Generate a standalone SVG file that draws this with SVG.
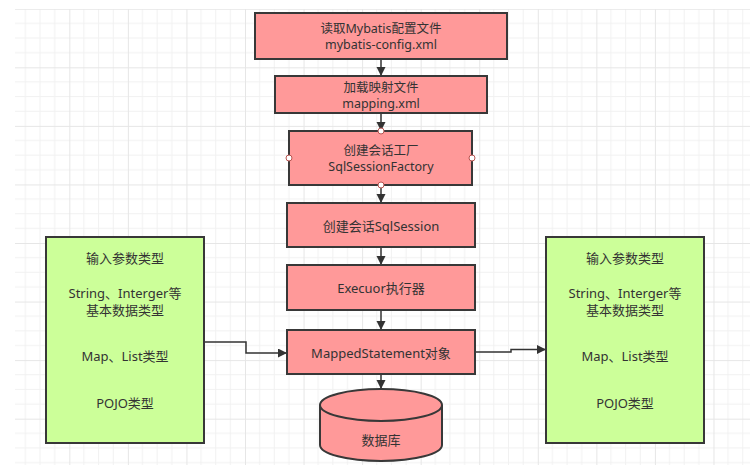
<svg xmlns="http://www.w3.org/2000/svg" width="752" height="470" viewBox="0 0 752 470">
<defs>
<pattern id="grid" x="10.75" y="8.75" width="58.56" height="58.56" patternUnits="userSpaceOnUse">
<path d="M14.64 0V58.56M29.28 0V58.56M43.92 0V58.56M0 14.64H58.56M0 29.28H58.56M0 43.92H58.56" stroke="#f1f1f1" stroke-width="1" fill="none"/>
<path d="M0.5 0V58.56M0 0.5H58.56" stroke="#e6e6e6" stroke-width="1" fill="none"/>
</pattern>
<marker id="arr" markerWidth="10" markerHeight="10" refX="9" refY="4.5" orient="auto" markerUnits="userSpaceOnUse">
<path d="M0,0 L9,4.5 L0,9 Z" fill="#333"/>
</marker>
<style>
.box{fill:#ff9999;stroke:#383838;stroke-width:2}
.green{fill:#ccff99;stroke:#383838;stroke-width:2}
.t{font-family:"Noto Sans","Noto Sans CJK SC",sans-serif;font-size:13px;fill:#333;text-anchor:middle;dominant-baseline:central}
.t2{font-size:12.5px}
.c{fill:none;stroke:#333;stroke-width:1.5}
.h{fill:#fff;stroke:#b85450;stroke-width:1}
</style>
</defs>
<rect width="752" height="470" fill="#fff"/>
<rect x="15" y="9" width="735" height="456" fill="url(#grid)"/>

<g id="connectors">
<path class="c" d="M381,59 V76" marker-end="url(#arr)"/>
<path class="c" d="M381,113 V131" marker-end="url(#arr)"/>
<path class="c" d="M381,185 V203" marker-end="url(#arr)"/>
<path class="c" d="M381,247 V265" marker-end="url(#arr)"/>
<path class="c" d="M381,310 V330" marker-end="url(#arr)"/>
<path class="c" d="M381,374 V389" marker-end="url(#arr)"/>
<path class="c" d="M204,342 H246 V353 H287" marker-end="url(#arr)"/>
<path class="c" d="M475,352 H511 V349.5 H546" marker-end="url(#arr)"/>
</g>

<g id="n1">
<rect class="box" x="255" y="13" width="252" height="46"/>
<text class="t t2" x="381" y="28.5">读取Mybatis配置文件</text>
<text class="t t2" x="381" y="44.5">mybatis-config.xml</text>
</g>
<g id="n2">
<rect class="box" x="275" y="76" width="212" height="37"/>
<text class="t t2" x="381" y="87">加载映射文件</text>
<text class="t t2" x="381" y="103">mapping.xml</text>
</g>
<g id="n3">
<rect class="box" x="289" y="131" width="183" height="54"/>
<text class="t t2" x="381" y="150.5">创建会话工厂</text>
<text class="t t2" x="381" y="166.5">SqlSessionFactory</text>
<circle class="h" cx="381" cy="131" r="3"/>
<circle class="h" cx="289" cy="158" r="3"/>
<circle class="h" cx="472" cy="158" r="3"/>
<circle class="h" cx="381" cy="185" r="3"/>
</g>
<g id="n4">
<rect class="box" x="287" y="203" width="188" height="44"/>
<text class="t" x="381" y="226">创建会话SqlSession</text>
</g>
<g id="n5">
<rect class="box" x="287" y="265" width="188" height="45"/>
<text class="t" x="381" y="288">Execuor执行器</text>
</g>
<g id="n6">
<rect class="box" x="287" y="330" width="188" height="44"/>
<text class="t" x="381" y="353">MappedStatement对象</text>
</g>
<g id="db">
<path class="box" d="M320,405 A61,16 0 0 1 442,405 V445 A61,16 0 0 1 320,445 Z"/>
<path class="box" d="M320,405 A61,16 0 0 0 442,405" fill="none"/>
<text class="t" x="381" y="440">数据库</text>
</g>
<g id="in-left">
<rect class="green" x="46" y="237" width="158" height="206"/>
<text class="t" x="125" y="258">输入参数类型</text>
<text class="t" x="125" y="292.5">String、Interger等</text>
<text class="t" x="125" y="309.5">基本数据类型</text>
<text class="t" x="125" y="356">Map、List类型</text>
<text class="t" x="125" y="403">POJO类型</text>
</g>
<g id="out-right">
<rect class="green" x="546" y="237" width="158" height="206"/>
<text class="t" x="625" y="258">输入参数类型</text>
<text class="t" x="625" y="292.5">String、Interger等</text>
<text class="t" x="625" y="309.5">基本数据类型</text>
<text class="t" x="625" y="356">Map、List类型</text>
<text class="t" x="625" y="403">POJO类型</text>
</g>
</svg>
